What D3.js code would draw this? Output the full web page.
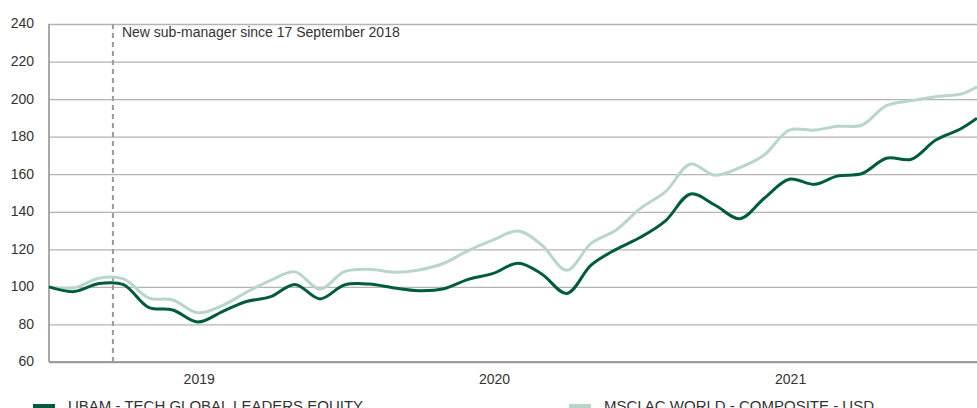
<html>
<head>
	<script src="https://cdn.jsdelivr.net/npm/d3@7"></script>
</head>
<body style="margin:0; padding:0; background:#fff;">
	<script>
	// Monthly closing dates (last point is the latest value)
	var dates = ["2018-06-30","2018-07-31","2018-08-31","2018-09-30","2018-10-31","2018-11-30","2018-12-31",
		"2019-01-31","2019-02-28","2019-03-31","2019-04-30","2019-05-31","2019-06-30","2019-07-31","2019-08-31",
		"2019-09-30","2019-10-31","2019-11-30","2019-12-31","2020-01-31","2020-02-29","2020-03-31","2020-04-30",
		"2020-05-31","2020-06-30","2020-07-31","2020-08-31","2020-09-30","2020-10-31","2020-11-30","2020-12-31",
		"2021-01-31","2021-02-28","2021-03-31","2021-04-30","2021-05-31","2021-06-30","2021-07-31","2021-08-20"];

	var ubam = [100, 97.5, 101.8, 101.2, 89.1, 87.7, 81.3,
		87, 92.1, 94.8, 101.3, 93.6, 101, 101.5, 99.4,
		98, 99, 104, 107.2, 112.6, 106.9, 96.5, 111.6,
		120, 126.4, 135.2, 149.5, 143.6, 136.3, 147.2, 157.3,
		154.6, 159, 160.4, 168.5, 168, 178.2, 184.2, 189.8];

	var msci = [100, 99.5, 104.6, 104.3, 94.2, 93, 86.2,
		90.2, 96.9, 103.5, 108, 98.8, 108.1, 109.4, 107.8,
		109, 112.6, 119.3, 125, 129.8, 122.3, 108.8, 123.2,
		130.3, 141.8, 150.7, 165.4, 159.5, 163.5, 170.2, 183.5,
		183.5, 185.5, 186.2, 196.5, 199.2, 201.3, 202.7, 206.6];

	var seriesNames = ["UBAM - TECH GLOBAL LEADERS EQUITY", "MSCI AC WORLD - COMPOSITE - USD"];
	var seriesColors = ["#005c3d", "#b9d6cb"];
	var yTicks = [60, 80, 100, 120, 140, 160, 180, 200, 220, 240];
	var xTicks = ["2019-01-01", "2020-01-01", "2021-01-01"];
	var markerDate = "2018-09-17";
	var markerText = "New sub-manager since 17 September 2018";

	var width = 977, height = 408;
	var plotLeft = 49, plotRight = 977, plotTop = 24, plotBottom = 362;
	var font = "'Liberation Sans', Arial, sans-serif";

	var parse = d3.timeParse("%Y-%m-%d");
	var svg = d3.select("body").append("svg")
		.attr("width", width)
		.attr("height", height)
		.style("font-family", font);

	var x = d3.scaleTime()
		.domain([parse(dates[0]), parse(dates[dates.length - 1])])
		.range([plotLeft, plotRight]);
	var y = d3.scaleLinear().domain([60, 240]).range([plotBottom, plotTop]);

	// grid + y labels
	var yAxis = svg.append("g")
		.attr("transform", "translate(" + plotLeft + ",0)")
		.call(d3.axisLeft(y).tickValues(yTicks).tickSize(-(plotRight - plotLeft)).tickPadding(15));
	yAxis.select(".domain").remove();
	yAxis.selectAll(".tick line").attr("stroke", "#b4b4b4").attr("stroke-width", 1.3);
	yAxis.selectAll(".tick text").attr("fill", "#333").style("font-size", "14px")
		.style("font-family", font).attr("dy", "0.28em");

	// x labels
	var xAxis = svg.append("g")
		.attr("transform", "translate(0," + plotBottom + ")")
		.call(d3.axisBottom(x).tickValues(xTicks.map(parse)).tickSize(0).tickPadding(12)
			.tickFormat(d3.timeFormat("%Y")));
	xAxis.select(".domain").remove();
	xAxis.selectAll(".tick text").attr("fill", "#333").style("font-size", "14px").style("font-family", font);

	// axis lines
	svg.append("line").attr("x1", plotLeft).attr("x2", plotLeft).attr("y1", plotTop).attr("y2", plotBottom)
		.attr("stroke", "#8c8c8c").attr("stroke-width", 1.5);
	svg.append("line").attr("x1", plotLeft).attr("x2", plotRight).attr("y1", plotBottom).attr("y2", plotBottom)
		.attr("stroke", "#8c8c8c").attr("stroke-width", 1.5);

	// marker
	var mx = x(parse(markerDate));
	svg.append("line").attr("x1", mx).attr("x2", mx).attr("y1", plotTop).attr("y2", plotBottom)
		.attr("stroke", "#9a9a9a").attr("stroke-width", 2).attr("stroke-dasharray", "5,4");
	svg.append("text").attr("x", mx + 9).attr("y", plotTop + 13)
		.attr("fill", "#333").style("font-size", "14px").text(markerText);

	// lines
	var line = d3.line()
		.x(function (d) { return x(d.date); })
		.y(function (d) { return y(d.value); })
		.curve(d3.curveCatmullRom.alpha(0.5));

	[msci, ubam].forEach(function (vals, k) {
		var data = vals.map(function (v, i) { return {date: parse(dates[i]), value: v}; });
		svg.append("path").datum(data)
			.attr("d", line)
			.attr("fill", "none")
			.attr("stroke", k == 0 ? seriesColors[1] : seriesColors[0])
			.attr("stroke-width", 3)
			.attr("stroke-linejoin", "round");
	});

	// legend
	var legendX = [33, 569];
	seriesNames.forEach(function (name, i) {
		var g = svg.append("g").attr("transform", "translate(" + legendX[i] + ",404)");
		g.append("rect").attr("width", 22).attr("height", 22).attr("fill", seriesColors[i]);
		g.append("text").attr("x", 35).attr("y", 7).attr("fill", "#333")
			.style("font-size", "15px").text(name);
	});
	</script>
</body>
</html>
